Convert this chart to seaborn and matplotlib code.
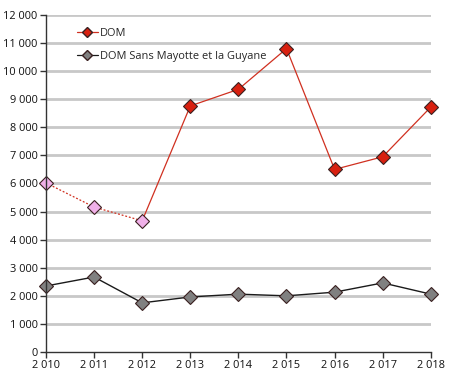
import pandas as pd
import matplotlib.pyplot as plt
import seaborn as sns
from matplotlib.lines import Line2D
from matplotlib.ticker import FuncFormatter

annees = [2010, 2011, 2012, 2013, 2014, 2015, 2016, 2017, 2018]
dom = [6020, 5160, 4670, 8760, 9350, 10800, 6500, 6950, 8720]
dom_sans = [2350, 2670, 1750, 1960, 2060, 2000, 2130, 2460, 2060]
# les 3 premieres annees du DOM sont estimees (pointilles, marqueurs roses)
n_estim = 3

sns.set_style("white")
plt.rcParams['font.family'] = ['Open Sans', 'DejaVu Sans']

fig = plt.figure(figsize=(4.53, 3.82), dpi=100)
ax = fig.add_axes([0.1015, 0.0785, 0.8495, 0.8825])

df = pd.DataFrame({"annee": annees, "DOM": dom, "sans": dom_sans})
est = df.iloc[:n_estim]
reel = df.iloc[n_estim - 1:]

for y in range(1000, 12001, 1000):
    ax.axhline(y, color="#c8c8c8", lw=2, zorder=0)

mk = dict(marker="D", markersize=7.5, markeredgecolor="#3a2020", markeredgewidth=0.8, clip_on=False)

sns.lineplot(data=df, x="annee", y="sans", ax=ax, color="#1a1a1a", lw=1,
             markerfacecolor="#808080", **mk)
sns.lineplot(data=est, x="annee", y="DOM", ax=ax, color="#d03020", lw=0.9, linestyle=(0, (1.5, 1.5)),
             markerfacecolor="#f0b0e8", **mk)
ax.plot(reel["annee"].iloc[:2], reel["DOM"].iloc[:2], color="#d03020", lw=0.9, zorder=1)
sns.lineplot(data=df.iloc[n_estim:], x="annee", y="DOM", ax=ax, color="#d03020", lw=0.9,
             markerfacecolor="#d82010", **mk)

ax.set_xlim(2010, 2018)
ax.set_ylim(0, 12000)
ax.set_xticks(annees)
ax.set_yticks(range(0, 12001, 1000))
fmt = FuncFormatter(lambda v, p: f"{int(v):,}".replace(",", " "))
ax.xaxis.set_major_formatter(fmt)
ax.yaxis.set_major_formatter(fmt)
ax.set_xlabel("")
ax.set_ylabel("")
ax.tick_params(axis="both", labelsize=7.9, labelcolor="#111111", length=4, width=1, color="#333333",
               direction="out", left=True, bottom=True, pad=2)
for s in ["top", "right"]:
    ax.spines[s].set_visible(False)
for s in ["left", "bottom"]:
    ax.spines[s].set_color("#333333")
    ax.spines[s].set_linewidth(1)

handles = [
    Line2D([], [], color="#d03020", lw=0.9, marker="D", markersize=5,
           markerfacecolor="#d82010", markeredgecolor="#3a2020"),
    Line2D([], [], color="#1a1a1a", lw=0.9, marker="D", markersize=5,
           markerfacecolor="#808080", markeredgecolor="#3a2020"),
]
ax.legend(handles, ["DOM", "DOM Sans Mayotte et la Guyane"], loc="upper left",
          bbox_to_anchor=(0.055, 0.99), frameon=False, fontsize=7.9, handlelength=1.9,
          handletextpad=0.2, labelspacing=1.05)

fig.savefig("out.png", dpi=100)
